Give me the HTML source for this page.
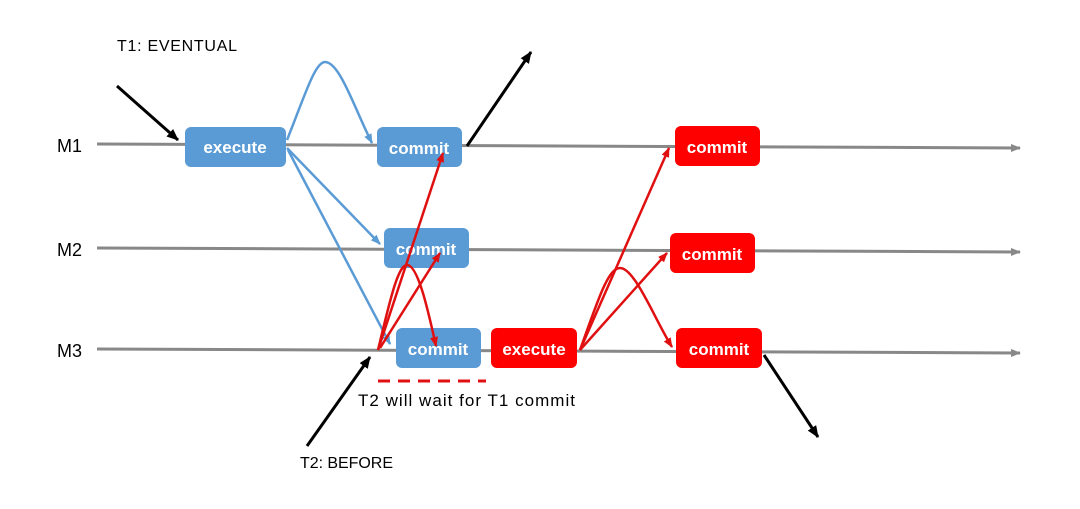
<!DOCTYPE html>
<html><head><style>
body{margin:0;background:#fff;width:1080px;height:504px;overflow:hidden;font-family:"Liberation Sans",sans-serif}
</style></head><body>
<svg width="1080" height="504" viewBox="0 0 1080 504">
<defs>
<marker id="g" markerWidth="10" markerHeight="8" refX="9" refY="4" orient="auto" markerUnits="userSpaceOnUse"><path d="M0,0 L10,4 L0,8z" fill="#888"/></marker>
<marker id="b" markerWidth="10" markerHeight="8" refX="9" refY="4" orient="auto" markerUnits="userSpaceOnUse"><path d="M0,0 L10,4 L0,8z" fill="#5b9bd5"/></marker>
<marker id="r" markerWidth="10" markerHeight="8" refX="9" refY="4" orient="auto" markerUnits="userSpaceOnUse"><path d="M0,0 L10,4 L0,8z" fill="#e01010"/></marker>
<marker id="k" markerWidth="12" markerHeight="10" refX="11" refY="5" orient="auto" markerUnits="userSpaceOnUse"><path d="M0,0 L12,5 L0,10z" fill="#000"/></marker>
</defs>
<g stroke="#888" stroke-width="3" marker-end="url(#g)">
<line x1="97" y1="144" x2="1020" y2="148"/>
<line x1="97" y1="248" x2="1020" y2="252"/>
<line x1="97" y1="349" x2="1020" y2="353"/>
</g>
<g font-size="18" fill="#000">
<text x="57" y="152">M1</text><text x="57" y="256">M2</text><text x="57" y="357">M3</text>
</g>
<g fill="#000">
<text x="117" y="51" font-size="16" textLength="120">T1: EVENTUAL</text>
<text x="300" y="468" font-size="16" textLength="93">T2: BEFORE</text>
<text x="358" y="406" font-size="17" textLength="217">T2 will wait for T1 commit</text>
</g>
<g stroke="#000" stroke-width="3" marker-end="url(#k)">
<line x1="117" y1="86" x2="178" y2="140"/>
<line x1="467" y1="146" x2="531" y2="52"/>
<line x1="307" y1="446" x2="370" y2="357"/>
<line x1="764" y1="355" x2="818" y2="437"/>
</g>
<g fill="none" stroke="#5b9bd5" stroke-width="2.5" marker-end="url(#b)">
<path d="M287,140 C305,95 315,62 325,62 C340,62 355,110 372,143"/>
<line x1="287" y1="148" x2="380" y2="244"/>
<line x1="288" y1="150" x2="390" y2="344"/>
</g>
<g fill="#5b9bd5">
<rect x="185" y="127" width="101" height="40" rx="6"/>
<rect x="377" y="127" width="85" height="40" rx="6"/>
<rect x="384" y="228" width="85" height="40" rx="6"/>
<rect x="396" y="328" width="85" height="40" rx="6"/>
</g>
<g fill="#f00">
<rect x="491" y="328" width="86" height="40" rx="6"/>
<rect x="675" y="126" width="85" height="40" rx="6"/>
<rect x="670" y="233" width="85" height="40" rx="6"/>
<rect x="676" y="328" width="86" height="40" rx="6"/>
</g>
<g fill="#fff" font-size="17" font-weight="bold" text-anchor="middle">
<text x="235" y="153">execute</text>
<text x="419" y="154">commit</text>
<text x="426" y="255">commit</text>
<text x="438" y="355">commit</text>
<text x="534" y="355">execute</text>
<text x="717" y="153">commit</text>
<text x="712" y="260">commit</text>
<text x="719" y="355">commit</text>
</g>
<g fill="none" stroke="#e01010" stroke-width="2.5" marker-end="url(#r)">
<line x1="378" y1="350" x2="443" y2="153"/>
<line x1="380" y1="348" x2="440" y2="253"/>
<path d="M378,350 C390,300 398,265 407,265 C418,265 428,310 436,346"/>
<line x1="580" y1="350" x2="669" y2="148"/>
<line x1="580" y1="350" x2="667" y2="253"/>
<path d="M580,350 C598,300 608,268 620,268 C635,268 655,320 672,347"/>
</g>
<line x1="378" y1="381" x2="486" y2="381" stroke="#e01010" stroke-width="3" stroke-dasharray="12,8"/>
</svg>
</body></html>
